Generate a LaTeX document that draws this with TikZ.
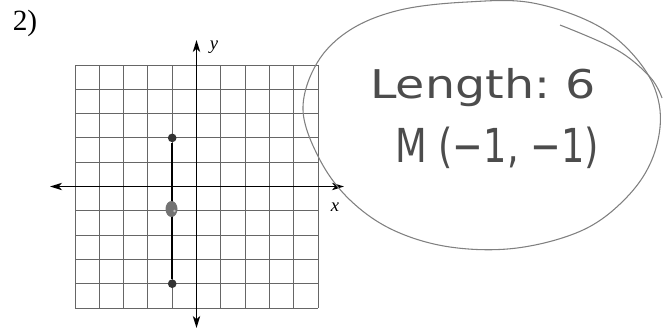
\documentclass[tikz,border=0pt]{standalone}
\usepackage{fontspec}
\setmainfont{Liberation Serif}
\newfontfamily\handfont{DejaVu Sans}
\usetikzlibrary{arrows.meta,shapes.geometric}
\begin{document}
\begin{tikzpicture}[x=0.75pt,y=-0.75pt,
  gridline/.style={draw=black!60,line width=0.7pt},
  axis/.style={draw=black,line width=1.3pt,{Stealth[length=9pt,width=5.5pt,inset=2.5pt]}-{Stealth[length=9pt,width=5.5pt,inset=2.5pt]}},
  seg/.style={draw=black,line width=1.8pt},
  endpt/.style={circle,fill=black!80,inner sep=0pt,minimum size=6.5pt},
  blob/.style={ellipse,fill=black!55,inner sep=0pt,minimum width=9pt,minimum height=12pt},
  axlabel/.style={font=\fontsize{14}{16}\selectfont\itshape,inner sep=0pt},
  hand/.style={font=\handfont\fontsize{27}{30}\selectfont,text=black!70,inner sep=0pt},
  bubble/.style={draw=black!50,line width=0.8pt}]
\useasboundingbox (0,0) rectangle (666,330);
% label
\node[font=\fontsize{22}{24}\selectfont,inner sep=0pt] (num) at (25,23) {2)};
% grid
\foreach \i in {0,...,10}{
  \draw[gridline] ({75+\i*24.3},65) -- ({75+\i*24.3},308);
  \draw[gridline] (75,{65+\i*24.3}) -- (318,{65+\i*24.3});
}
% axes
\coordinate (xl) at (50,186.5);
\coordinate (xr) at (344,186.5);
\coordinate (yt) at (196.5,40);
\coordinate (yb) at (196.5,328);
\draw[axis] (xl) -- (xr);
\draw[axis] (yt) -- (yb);
\node[axlabel] (ylab) at (214,47) {y};
\node[axlabel] (xlab) at (335,207) {x};
% segment
\node[endpt] (A) at (172.2,137.9) {};
\node[endpt] (B) at (172.2,283.7) {};
\draw[seg] (A) -- (B);
\node[blob] (M) at (171.5,209) {};
\fill[black!25] (174.5,211) circle (1.3);
% bubble
\draw[bubble] plot[smooth cycle,tension=0.6] coordinates {
  (303,110) (317,63) (350,30) (400,10) (467,2) (533,3) (600,27) (643,67)
  (660,110) (653,157) (627,197) (583,230) (517,248) (450,247) (393,230)
  (350,200) (320,160)};
\draw[bubble] plot[smooth,tension=0.6] coordinates {(560,25) (617,50) (650,77) (662,98)};
% handwriting
\node[hand,anchor=base west] (len) at (370,98) {\scalebox{1.32}[1.1]{Length:\ 6}};
\node[hand,anchor=base west] (mid) at (395,162) {\scalebox{1.02}[1.3]{M (−1, −1)}};
\end{tikzpicture}
\end{document}
